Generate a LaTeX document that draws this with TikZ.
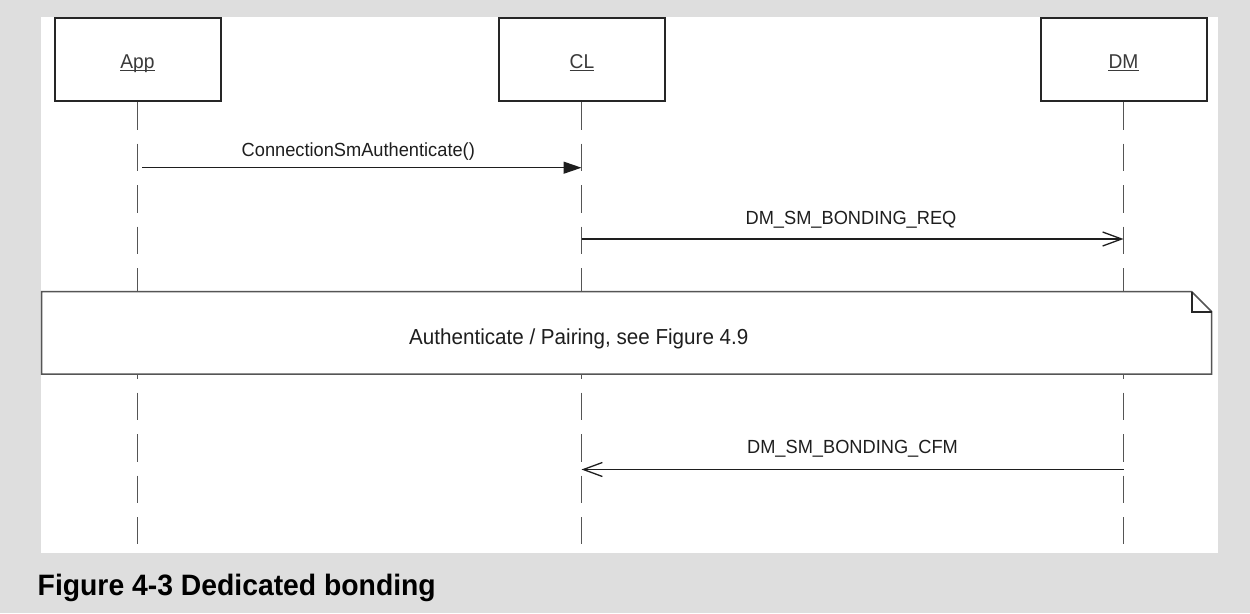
\documentclass[tikz,border=0pt]{standalone}
\usepackage{fontspec}
\setmainfont{Liberation Sans}
\newfontfamily\msgfont[FakeStretch=0.96]{Liberation Sans}
\newfontfamily\notefont[FakeStretch=0.95]{Liberation Sans}
\newfontfamily\capfont[FakeStretch=0.96]{Liberation Sans}
\usetikzlibrary{arrows.meta,calc}
\definecolor{bggray}{HTML}{DEDEDE}
\definecolor{linegray}{HTML}{555555}
\definecolor{boxline}{HTML}{262626}
\definecolor{txt}{HTML}{1E1E1E}
\definecolor{lbltxt}{HTML}{3A3A3A}
\tikzset{
 actorbox/.style={draw=boxline, line width=2pt, fill=white, minimum width=166pt, minimum height=83pt, inner sep=0pt},
 actorlabel/.style={font=\msgfont\fontsize{20}{24}\selectfont, text=lbltxt, anchor=base, inner sep=0pt},
 underl/.style={draw=lbltxt, line width=1.2pt},
 lifeline/.style={draw=linegray, line width=1.6pt, dash pattern=on 27.5pt off 14pt},
 msglabel/.style={font=\msgfont\fontsize{19}{23}\selectfont, text=txt, anchor=base, inner sep=0pt},
 syncmsg/.style={draw=txt, line width=1.3pt, -{Triangle[length=18pt,width=12pt]}},
 asyncmsg/.style={draw=txt, line width=1.3pt, -{Straight Barb[length=19pt,width=14pt,line width=1.3pt]}},
 notebox/.style={draw=linegray, line width=1.5pt, fill=white},
 notefold/.style={draw=boxline, line width=1.8pt},
 notelabel/.style={font=\notefont\fontsize{21.7}{26}\selectfont, text=txt, anchor=base, inner sep=0pt},
 captionstyle/.style={font=\capfont\bfseries\fontsize{29.5}{35}\selectfont, text=black, anchor=base west, inner sep=0pt}
}
\begin{document}
\begin{tikzpicture}[x=1pt,y=-1pt]
\useasboundingbox (0,0) rectangle (1250,613);
\fill[bggray] (0,0) rectangle (1250,613);
\fill[white] (41,17) rectangle (1218,552.5);

% actors
\node[actorbox] (app) at (137.5,59.65) {};
\node[actorbox] (cl)  at (581.5,59.65) {};
\node[actorbox] (dm)  at (1123.5,59.65) {};
\node[actorlabel] (applbl) at (137.5,68.4) {App};
\node[actorlabel] (cllbl)  at (582,68.4) {CL};
\node[actorlabel] (dmlbl)  at (1123.5,68.4) {DM};
\foreach \l in {applbl,cllbl,dmlbl}
  \draw[underl] ($(\l.base west)+(0,2.4)$) -- ($(\l.base east)+(0,2.4)$);

% lifelines
\coordinate (lifeend) at (0,544);
\draw[lifeline] (app.south) -- (app.south |- lifeend);
\draw[lifeline] (cl.south) -- (cl.south |- lifeend);
\draw[lifeline] (dm.south) -- (dm.south |- lifeend);

% note
\draw[notebox] (41.7,291.7) -- (1191.7,291.7) -- (1211.7,311.7) -- (1211.7,374) -- (41.7,374) -- cycle;
\draw[notefold] (1191.7,291.7) -- (1191.7,311.7) -- (1211.7,311.7);
\node[notelabel] (notetext) at (578.8,344) {Authenticate / Pairing, see Figure 4.9};

% messages
\coordinate (m1a) at (app.south |- 0,167.7);
\coordinate (m1b) at (cl.south |- 0,167.7);
\draw[syncmsg, shorten <=4.5pt] (m1a) -- (m1b);
\node[msglabel] (m1lbl) at (358.3,156) {ConnectionSmAuthenticate()};

\coordinate (m2a) at (cl.south |- 0,239);
\coordinate (m2b) at (dm.south |- 0,239);
\draw[asyncmsg] (m2a) -- (m2b);
\node[msglabel] (m2lbl) at (851,224.7) {DM\_SM\_BONDING\_REQ};

\coordinate (m3a) at (dm.south |- 0,469.5);
\coordinate (m3b) at (cl.south |- 0,469.5);
\draw[asyncmsg] (m3a) -- (m3b);
\node[msglabel] (m3lbl) at (852.5,453.3) {DM\_SM\_BONDING\_CFM};

% caption
\node[captionstyle] (caption) at (37.5,595.7) {Figure 4-3 Dedicated bonding};
\end{tikzpicture}
\end{document}
